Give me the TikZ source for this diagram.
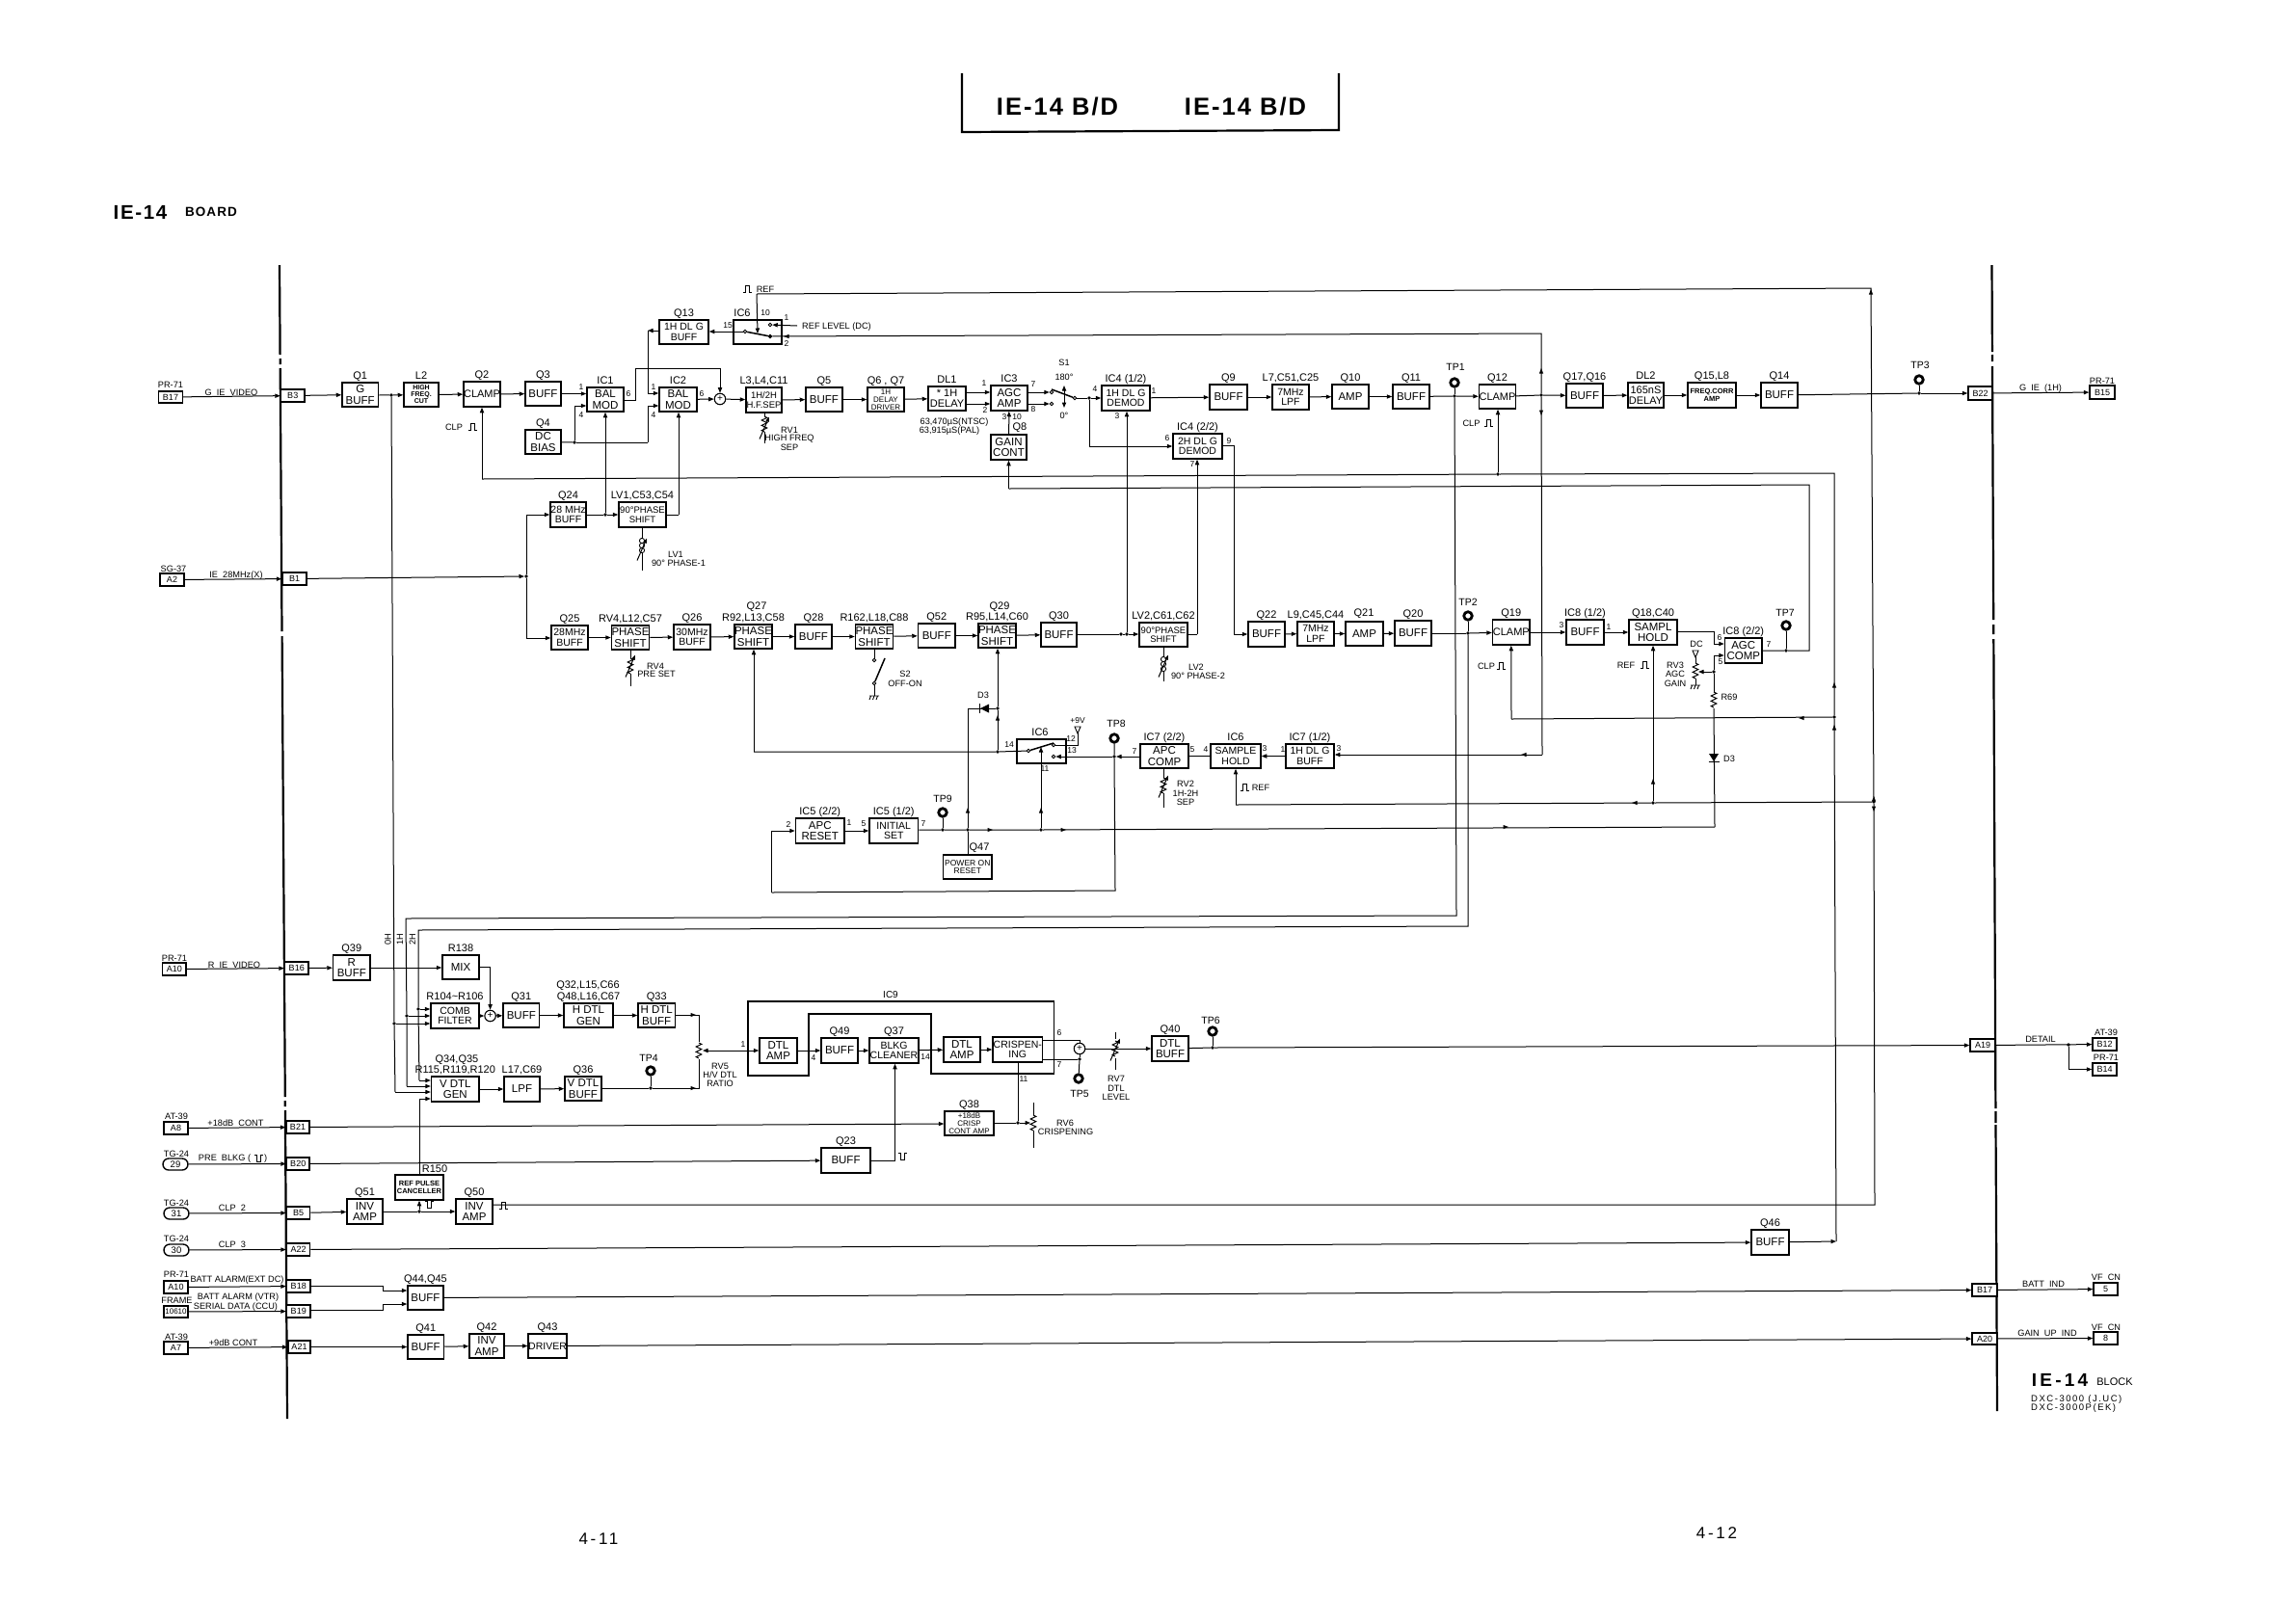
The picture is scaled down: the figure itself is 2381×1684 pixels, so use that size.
\documentclass[tikz,border=0pt]{standalone}
\usepackage{fontspec}
\setmainfont{Liberation Sans}
\usetikzlibrary{arrows.meta,calc}
\newcounter{txtc}
\newcommand{\fz}[1]{\fontsize{#1}{#1}\selectfont}
\tikzset{x=1pt,y=-1pt,
 wire/.style={line width=1pt,line join=miter},
 wa/.style={wire,-{Triangle[length=5.5pt,width=4.2pt]}},
 wb/.style={wire,{Triangle[length=5.5pt,width=4.2pt]}-{Triangle[length=5.5pt,width=4.2pt]}},
 border/.style={line width=2.2pt},
 box/.style={draw,line width=1.5pt,fill=white,inner sep=0pt,align=center,font=\fz{11.5}},
 conn/.style={draw,line width=1.4pt,fill=white,inner sep=0pt,align=center,font=\fz{9}},
 oval/.style={conn,rounded corners=6pt,font=\fz{9.5}},
 ttl/.style={inner sep=0pt,anchor=base,font=\fz{11}},
 lbl/.style={inner sep=0pt,align=center,font=\fz{9.2}},
 pin/.style={inner sep=0pt,font=\fz{8.5}},
 tplab/.style={inner sep=0pt,font=\fz{10.5}},
 head/.style={inner sep=0pt,font=\bfseries\fz{#1}\addfontfeature{LetterSpace=8}},
 spc/.style={inner sep=0pt,font=\fz{#1}\addfontfeature{LetterSpace=16}},
 jdot/.style={circle,fill=black,inner sep=0pt,minimum size=3.6pt},
 tp/.style={circle,draw,line width=2.8pt,fill=white,inner sep=0pt,minimum size=8.5pt},
 cont/.style={circle,draw,line width=0.9pt,fill=white,inner sep=0pt,minimum size=3.6pt},
 sumj/.style={circle,draw,line width=1.1pt,fill=white,inner sep=0pt,minimum size=11.5pt,font=\fz{10}},
 blade/.style={line width=1.5pt}}
\newcommand{\dbox}[7][box]{%
 \pgfmathsetmacro\bxx{(#3+#5)/2}\pgfmathsetmacro\bxy{(#4+#6)/2}%
 \pgfmathsetmacro\bxw{#5-#3}\pgfmathsetmacro\bxh{#6-#4}%
 \node[#1,minimum width=\bxw pt,minimum height=\bxh pt] (#2) at (\bxx,\bxy) {#7};}
\newcommand{\dttl}[2]{\node[ttl] (#1-t) at ([yshift=3pt]#1.north) {#2};}
\newcommand{\dlab}[4][lbl]{\stepcounter{txtc}\node[#1] (t\arabic{txtc}) at (#2,#3) {#4};}
\newcommand{\jn}[3]{\node[jdot] (#1) at (#2,#3) {};}
\newcommand{\tipR}[2]{\fill (#1,#2) ++(-5.5,-2.1) -- ++(5.5,2.1) -- ++(-5.5,2.1) -- cycle;}
\newcommand{\tipL}[2]{\fill (#1,#2) ++(5.5,-2.1) -- ++(-5.5,2.1) -- ++(5.5,2.1) -- cycle;}
\newcommand{\tipU}[2]{\fill (#1,#2) ++(-2.1,5.5) -- ++(2.1,-5.5) -- ++(2.1,5.5) -- cycle;}
\newcommand{\tipD}[2]{\fill (#1,#2) ++(-2.1,-5.5) -- ++(2.1,5.5) -- ++(2.1,-5.5) -- cycle;}
\newcommand{\pls}[2]{\draw[line width=0.9pt] (#1,#2) ++(-4.5,3.5) -- ++(2.5,0) -- ++(0,-7) -- ++(4,0) -- ++(0,7) -- ++(2.5,0);}
\newcommand{\npls}[2]{\draw[line width=0.9pt] (#1,#2) ++(-4.5,-3.5) -- ++(2.5,0) -- ++(0,7) -- ++(4,0) -- ++(0,-7) -- ++(2.5,0);}
\newcommand{\zz}[2]{\draw[wire] (#1,#2) ++(0,-8) -- ++(2.8,1.4) -- ++(-5.6,2.6) -- ++(5.6,2.6) -- ++(-5.6,2.8) -- ++(5.6,2.6) -- ++(-5.6,2.6) -- ++(2.8,1.4);}
\newcommand{\coilz}[2]{\foreach \dy in {-5,0,5}{\draw[line width=0.9pt] (#1,#2) ++(0,\dy) circle[radius=2.6pt];}}
\newcommand{\slant}[2]{\draw[wire,-{Triangle[length=5pt,width=3.5pt]}] (#1,#2) ++(-5,11.5) -- ++(10,-23);}
\newcommand{\gnd}[2]{\draw[line width=0.9pt] (#1,#2) ++(-5,0) -- ++(10,0) (#1,#2) ++(-3.5,0) -- ++(-1.5,4) (#1,#2) ++(0,0) -- ++(-1.5,4) (#1,#2) ++(3.5,0) -- ++(-1.5,4);}
\newcommand{\tria}[2]{\draw[line width=0.9pt,fill=white] (#1,#2) ++(-3,-3) -- ++(6,0) -- ++(-3,7) -- cycle;}
\begin{document}
\begin{tikzpicture}
\useasboundingbox (0,0) rectangle (2381,1684);
% page title
\draw[line width=2.2pt] (998,76) -- (998,137) -- (1389,135) -- (1389,76);
\dlab[head=25.5]{1097}{111}{IE-14 B/D}
\dlab[head=25.5]{1292}{111}{IE-14 B/D}
\dlab[head=20.5]{145.5}{220}{IE-14}
\dlab[head=13.5]{219}{220}{BOARD}
\dlab[spc=17]{621}{1597}{4-11}
\dlab[spc=17]{1781}{1591}{4-12}
% frame lines
\draw[border] (290,275) -- (290.6,368) (290.65,372) -- (290.7,378) (290.7,382) -- (292.5,655) (292.6,660) -- (295.8,1138) (295.8,1142) -- (295.8,1148) (295.9,1152) -- (298,1472);
\draw[border] (2066.5,275) -- (2066.9,365) (2066.9,368) -- (2067,375) (2067,380) -- (2068.2,643) (2068.2,648) -- (2068.3,658) (2068.3,663) -- (2070.4,1150) (2070.4,1153) -- (2070.5,1165) (2070.5,1167) -- (2072,1464);
% IC9 outline
\draw[line width=1.1pt] (776,1039) -- (1093.5,1039) -- (1093.5,1114) -- (966,1114) -- (966,1052) -- (839,1052) -- (839,1116) -- (776,1116) -- cycle;
% left connectors
\dbox[conn]{b17}{164.5}{406}{189.5}{418}{B17}
\dbox[conn]{b3}{291.5}{404}{316}{417}{B3}
\dbox[conn]{a2}{166}{595}{191}{608}{A2}
\dbox[conn]{b1}{293}{594}{318}{607}{B1}
\dbox[conn]{a10}{168.6}{999}{193}{1012}{A10}
\dbox[conn]{b16}{295.5}{998}{320}{1011}{B16}
\dbox[conn]{a8}{170}{1164}{195}{1177}{A8}
\dbox[conn]{b21}{297}{1163}{321}{1176}{B21}
\dbox[oval]{c29}{169}{1202}{195}{1214}{29}
\dbox[conn]{b20}{297.5}{1201}{321}{1214}{B20}
\dbox[oval]{c31}{170}{1253}{196}{1265}{31}
\dbox[conn]{b5}{297.5}{1252}{321.6}{1265}{B5}
\dbox[oval]{c30}{170}{1291}{196}{1303}{30}
\dbox[conn]{a22}{297.5}{1290}{321.6}{1303}{A22}
\dbox[conn]{a10b}{170}{1329}{195}{1342}{A10}
\dbox[conn,line width=2pt,font=\fz{8}]{frm}{170}{1355}{195}{1367}{10610}
\dbox[conn]{b18}{297.5}{1328}{322}{1341}{B18}
\dbox[conn]{b19}{297.5}{1354}{322}{1367}{B19}
\dbox[conn]{a7}{170}{1392}{195}{1405}{A7}
\dbox[conn]{a21}{299}{1391}{322}{1404}{A21}
% right connectors
\dbox[conn]{b22}{2042}{401}{2067}{415}{B22}
\dbox[conn]{b15}{2168}{400}{2194}{414}{B15}
\dbox[conn]{a19}{2044}{1078}{2070}{1091}{A19}
\dbox[conn]{b12}{2171}{1077}{2196}{1090}{B12}
\dbox[conn]{b14}{2171}{1103}{2196}{1116}{B14}
\dbox[conn]{b17r}{2046}{1332}{2072}{1345}{B17}
\dbox[conn]{c5}{2172}{1331}{2197}{1344}{5}
\dbox[conn]{a20}{2046}{1383}{2072}{1395}{A20}
\dbox[conn]{c8}{2172}{1382}{2197}{1395}{8}
% row 1
\dbox{q1}{355}{397}{392.5}{422}{G\\BUFF}\dttl{q1}{Q1}
\dbox[box,font=\bfseries\fz{7}]{l2}{419}{397}{455}{422}{HIGH\\FREQ.\\CUT}\dttl{l2}{L2}
\dbox[box,font=\fz{11}]{q2}{481}{396}{519}{422}{CLAMP}\dttl{q2}{Q2}
\dbox{q3}{545}{396}{582}{421}{BUFF}\dttl{q3}{Q3}
\dbox{q4}{545}{446}{582}{471}{DC\\BIAS}\dttl{q4}{Q4}
\dbox{ic1}{609}{402}{647}{427}{BAL\\MOD}\dttl{ic1}{IC1}
\dbox{ic2}{684}{402}{723}{427}{BAL\\MOD}\dttl{ic2}{IC2}
\node[sumj] (sum1) at (747,414) {+};
\dbox[box,font=\fz{9.5}]{l3}{774}{402}{811}{428}{1H/2H\\H.F.SEP}\dttl{l3}{L3,L4,C11}
\dbox{q5}{836}{402}{874}{427}{BUFF}\dttl{q5}{Q5}
\dbox[box,font=\fz{8}]{q6}{900}{402}{938}{427}{1H\\DELAY\\DRIVER}\dttl{q6}{Q6 , Q7}
\dbox[box,font=\fz{11}]{dl1}{963}{401}{1002}{426}{* 1H\\DELAY}\dttl{dl1}{DL1}
\dbox{ic3}{1028}{400}{1066}{426}{AGC\\AMP}\dttl{ic3}{IC3}
\dbox{q8}{1028}{451}{1065}{477}{GAIN\\CONT}
\dlab[ttl,anchor=center]{1058}{444}{Q8}
\dbox[box,font=\fz{10.5}]{ic41}{1143}{400}{1193}{426}{1H DL G\\DEMOD}\dttl{ic41}{IC4 (1/2)}
\dbox[box,font=\fz{10.5}]{ic42}{1217}{450}{1268}{476}{2H DL G\\DEMOD}\dttl{ic42}{IC4 (2/2)}
\dbox{q9}{1255}{399}{1294}{425}{BUFF}\dttl{q9}{Q9}
\dbox[box,font=\fz{10.5}]{l7}{1320}{399}{1358}{425}{7MHz\\LPF}\dttl{l7}{L7,C51,C25}
\dbox{q10}{1382}{399}{1420}{424}{AMP}\dttl{q10}{Q10}
\dbox{q11}{1445}{399}{1483}{424}{BUFF}\dttl{q11}{Q11}
\dbox[box,font=\fz{11}]{q12}{1535}{399}{1572}{424}{CLAMP}\dttl{q12}{Q12}
\dbox{q17}{1625}{398}{1663}{423}{BUFF}\dttl{q17}{Q17,Q16}
\dbox[box,font=\fz{11}]{dl2}{1689}{397}{1726}{423}{165nS\\DELAY}\dttl{dl2}{DL2}
\dbox[box,font=\bfseries\fz{7.5}]{q15}{1751}{397}{1801}{423}{FREQ.CORR\\AMP}\dttl{q15}{Q15,L8}
\dbox{q14}{1827}{397}{1865}{423}{BUFF}\dttl{q14}{Q14}
\dbox[box,font=\fz{10.5}]{q13}{684}{332}{735}{357}{1H DL G\\BUFF}\dttl{q13}{Q13}
\dbox{ic6a}{761}{332}{811}{357}{}
\dlab[ttl,anchor=center]{770}{325}{IC6}
% row 2
\dbox[box,font=\fz{10.5}]{q24}{571}{521}{608}{547}{28 MHz\\BUFF}\dttl{q24}{Q24}
\dbox[box,font=\fz{9.5}]{lv1}{642}{521}{691}{547}{90°PHASE\\SHIFT}\dttl{lv1}{LV1,C53,C54}
% row 3
\dbox[box,font=\fz{10.5}]{q25}{572}{649}{610}{674}{28MHz\\BUFF}\dttl{q25}{Q25}
\dbox{rv4b}{635}{649}{673}{674}{PHASE\\SHIFT}\dttl{rv4b}{RV4,L12,C57}
\dbox[box,font=\fz{10.5}]{q26}{699}{648}{737}{674}{30MHz\\BUFF}\dttl{q26}{Q26}
\dbox{q27}{762}{648}{801}{673}{PHASE\\SHIFT}\dttl{q27}{R92,L13,C58}
\dlab[ttl,anchor=center]{785}{630}{Q27}
\dbox{q28}{825}{648}{863}{673}{BUFF}\dttl{q28}{Q28}
\dbox{r162}{888}{648}{926}{673}{PHASE\\SHIFT}\dttl{r162}{R162,L18,C88}
\dbox{q52}{952.5}{647}{991}{672}{BUFF}\dttl{q52}{Q52}
\dbox{q29}{1015}{647}{1054}{672}{PHASE\\SHIFT}\dttl{q29}{R95,L14,C60}
\dlab[ttl,anchor=center]{1037}{630}{Q29}
\dbox{q30}{1080}{646}{1117}{671}{BUFF}\dttl{q30}{Q30}
\dbox[box,font=\fz{9.5}]{lv2}{1182}{646}{1232}{671}{90°PHASE\\SHIFT}\dttl{lv2}{LV2,C61,C62}
\dbox{q22}{1295}{645}{1333}{671}{BUFF}\dttl{q22}{Q22}
\dbox[box,font=\fz{10.5}]{l9}{1346}{645}{1384}{670}{7MHz\\LPF}\dttl{l9}{L9,C45,C44}
\dbox{q21}{1396}{645}{1435}{670}{AMP}
\dlab[ttl,anchor=center]{1415}{637}{Q21}
\dbox{q20}{1447}{644}{1485}{670}{BUFF}\dttl{q20}{Q20}
\dbox[box,font=\fz{11}]{q19}{1548.6}{643}{1587}{669}{CLAMP}\dttl{q19}{Q19}
\dbox{ic81}{1625}{643}{1664}{669}{BUFF}\dttl{ic81}{IC8 (1/2)}
\dbox{q18}{1690}{643}{1740}{669}{SAMPL\\HOLD}\dttl{q18}{Q18,C40}
\dbox{ic82}{1789.5}{662}{1828}{688}{AGC\\COMP}\dttl{ic82}{IC8 (2/2)}
% row 4
\dbox{ic6b}{1055}{767}{1106}{792}{}
\dlab[ttl,anchor=center]{1079}{760}{IC6}
\dbox{ic72}{1183}{772}{1233}{797}{APC\\COMP}\dttl{ic72}{IC7 (2/2)}
\dbox[box,font=\fz{10.5}]{sh}{1256}{772}{1308}{797}{SAMPLE\\HOLD}\dttl{sh}{IC6}
\dbox[box,font=\fz{10.5}]{ic71}{1334}{772}{1384}{797}{1H DL G\\BUFF}\dttl{ic71}{IC7 (1/2)}
\dbox{ic52}{825.5}{849}{876}{875}{APC\\RESET}\dttl{ic52}{IC5 (2/2)}
\dbox[box,font=\fz{10.5}]{ic51}{902}{849}{952.5}{875}{INITIAL\\SET}\dttl{ic51}{IC5 (1/2)}
\dbox[box,font=\fz{8.5}]{q47}{978.6}{887}{1029}{912}{POWER ON\\RESET}
\dlab[ttl,anchor=center]{1016}{880}{Q47}
% detail section
\dbox{q39}{345.6}{991}{384}{1017}{R\\BUFF}\dttl{q39}{Q39}
\dbox{r138}{459}{991}{497}{1016}{MIX}\dttl{r138}{R138}
\dbox[box,font=\fz{10.5}]{comb}{447}{1041}{497}{1067}{COMB\\FILTER}\dttl{comb}{R104\textasciitilde R106}
\node[sumj] (sum2) at (508.6,1054) {+};
\dbox{q31}{522}{1041}{559.6}{1066}{BUFF}\dttl{q31}{Q31}
\dbox{q32}{585}{1041}{636}{1066}{H DTL\\GEN}\dttl{q32}{Q48,L16,C67}
\dlab[ttl,anchor=center]{610}{1023}{Q32,L15,C66}
\dbox{q33}{662}{1041}{700.5}{1066}{H DTL\\BUFF}\dttl{q33}{Q33}
\dbox{vdtl}{447.6}{1117}{497}{1143}{V DTL\\GEN}\dttl{vdtl}{R115,R119,R120}
\dlab[ttl,anchor=center]{474}{1100}{Q34,Q35}
\dbox{lpf}{523}{1117}{560}{1143}{LPF}\dttl{lpf}{L17,C69}
\dbox{q36}{586}{1117}{624}{1142}{V DTL\\BUFF}\dttl{q36}{Q36}
\dbox{am1}{788}{1077}{827}{1103}{DTL\\AMP}
\dbox{q49}{852}{1077}{890}{1103}{BUFF}\dttl{q49}{Q49}
\dbox[box,font=\fz{10.5}]{q37}{902}{1077}{953}{1103}{BLKG\\CLEANER}\dttl{q37}{Q37}
\dbox{am2}{979}{1076}{1017}{1102}{DTL\\AMP}
\dbox[box,font=\fz{10.5}]{crisp}{1030}{1076}{1081.5}{1102}{CRISPEN-\\ING}
\node[sumj] (sum3) at (1120,1088) {+};
\dbox{q40}{1195}{1075}{1233}{1101}{DTL\\BUFF}\dttl{q40}{Q40}
\dbox[box,font=\fz{8}]{q38}{980}{1153}{1031}{1178}{+18dB\\CRISP\\CONT AMP}\dttl{q38}{Q38}
\dbox{q23}{852}{1191}{903}{1217}{BUFF}\dttl{q23}{Q23}
\dbox[box,font=\bfseries\fz{7.5},line width=1.5pt]{r150}{410}{1219}{460}{1245}{REF PULSE\\CANCELLER}
\dlab[ttl,anchor=center]{451}{1213}{R150}
\dbox{q51}{360}{1244}{397}{1270}{INV\\AMP}\dttl{q51}{Q51}
\dbox{q50}{473}{1244}{511}{1270}{INV\\AMP}\dttl{q50}{Q50}
\dbox{q46}{1817}{1276}{1856}{1302}{BUFF}\dttl{q46}{Q46}
\dbox{q44}{423}{1334}{460}{1359}{BUFF}\dttl{q44}{Q44,Q45}
\dbox{q41}{423}{1385}{460.5}{1410}{BUFF}\dttl{q41}{Q41}
\dbox{q42}{487}{1384}{523}{1409}{INV\\AMP}\dttl{q42}{Q42}
\dbox[box,font=\fz{10.5}]{q43}{549}{1384}{587}{1409}{DRIVER}\dttl{q43}{Q43}
% test points
\node[tp] (tp1) at (1509,397) {};
\node[tp] (tp2) at (1523,639) {};
\node[tp] (tp3) at (1991,394) {};
\node[tp] (tp4) at (675,1111) {};
\node[tp] (tp5) at (1119,1119) {};
\node[tp] (tp6) at (1258,1070) {};
\node[tp] (tp7) at (1853,649) {};
\node[tp] (tp8) at (1156,766) {};
\node[tp] (tp9) at (978,843) {};
\dlab[tplab]{1510}{381}{TP1}\dlab[tplab]{1523}{625}{TP2}\dlab[tplab]{1992}{379}{TP3}
\dlab[tplab]{673}{1098}{TP4}\dlab[tplab]{1120}{1135}{TP5}\dlab[tplab]{1256}{1059}{TP6}
\dlab[tplab]{1852}{636}{TP7}\dlab[tplab]{1158}{751}{TP8}\dlab[tplab]{978}{829}{TP9}
% junctions
\jn{n0}{406}{410}
\jn{n4}{596}{459}
\jn{n1c}{1130}{413}
\jn{nt1}{1509}{411}
\jn{n12}{1599}{410}
\jn{ntp3}{1991}{408}
\jn{nb1}{546}{598}
\jn{n24}{628}{534}
\jn{n30a}{1163}{658}
\jn{n30b}{1169}{658}
\jn{nt2}{1523}{657}
\jn{n7}{1853}{675}
\jn{n5}{1778}{697}
\jn{n19}{1903}{744}
\jn{nr}{1944}{832}
\jn{nr2}{1715}{833}
\jn{n12b}{1554}{492}
\jn{n14}{1035}{780}
\jn{nd3}{1035}{735}
\jn{n8}{1156}{785}
\jn{ntp9}{978}{861}
\jn{nq47}{1004}{861}
\jn{n11}{1080}{861}
\jn{n2h}{434}{1047}
\jn{n1h}{422}{1054}
\jn{n0h}{409}{1062}
\jn{ntp4}{675}{1129}
\jn{n38}{1056}{1165}
\jn{n7s}{1120}{1099}
\jn{ntp6}{1258}{1087}
\jn{n51}{435}{1257}
\jn{nd}{2146}{1084}
% chains
\foreach \a/\b in {b17/b3,b3/q1,l2/q2,q2/q3,ic2/sum1,sum1/l3,l3/q5,q5/q6,q6/dl1,ic41/q9,q9/l7,l7/q10,q10/q11,q17/dl2,dl2/q15,q15/q14,b22/b15,a2/b1,q25/rv4b,rv4b/q26,q26/q27,q27/q28,q28/r162,r162/q52,q52/q29,q29/q30,q22/l9,l9/q21,q21/q20,q19/ic81,ic81/q18,ic71/sh,ic52/ic51,a10/b16,b16/q39,comb/sum2,sum2/q31,q31/q32,q32/q33,lpf/q36,vdtl/lpf,am1/q49,q49/q37,q37/am2,am2/crisp,sum3/q40,c29/b20,a8/b21,c31/b5,c30/a22,a10b/b18,frm/b19,a7/a21,q41/q42,q42/q43,a21/q41,b5/q51,b20/q23,a22/q46,b1/nb1,q8/ic3,n51/q50}{
 \draw[wa] (\a) -- (\b);
}
% row 1 wires
\draw[wire] (q1) -- (n0);
\draw[wa] (n0) -- (l2);
\draw[wa] (q3) -- (ic1.west |- q3);
\draw[wire] (q4) -- (n4);
\draw[wa] (n4) |- (ic1.west |- 0,421);
\draw[wire] (n4) -- (672,459) coordinate (c4a);
\draw[wa] (c4a) |- (ic2.west |- 0,421);
\coordinate (c1a) at (659,415);
\coordinate (c1b) at (659,382);
\coordinate (c1c) at (747,382);
\draw[wa] (ic1.east |- c1a) -- (c1a) -- (c1b) -- (c1c) -- (sum1);
\coordinate (c13) at (672,343);
\draw[wa] (q13.west |- c13) -- (c13);
\draw[wa] (c13) |- (ic2.west |- 0,408);
\draw[wa] (dl1.east |- 0,407) -- (ic3.west |- 0,407);
\draw[wa] (dl1.east |- 0,419) -- (ic3.west |- 0,419);
\node[cont] (s1a) at (1091,407) {};
\node[cont] (s1b) at (1091,419) {};
\node[cont] (s1c) at (1115,413) {};
\draw[wa] (ic3.east |- s1a) -- (s1a);
\draw[wa] (ic3.east |- s1b) -- (s1b);
\draw[blade] (s1c) -- (1091,404);
\draw[wb] (1104,400) -- (1104,423);
\draw[wire] (s1c) -- (n1c);
\draw[wa] (n1c) -- (ic41.west |- n1c);
\draw[wa] (n1c) |- (ic42.west |- 0,463);
\draw[wire] (q11) -- (nt1);
\draw[wa] (nt1) -- (q12);
\draw[wire] (tp1) -- (nt1);
\draw[wire] (q12) -- (n12);
\draw[wa] (n12) -- (q17);
\draw[wire] (q14) -- (ntp3);
\draw[wa] (ntp3) -- (b22);
\draw[wire] (tp3) -- (ntp3);
% IC6 top switch
\node[cont] (s6a) at (773,344) {};
\node[cont] (s6b) at (799,337) {};
\node[cont,fill=black] (s6c) at (799,349) {};
\draw[blade] (s6a) -- (s6c);
\coordinate (crl) at (827,338);
\draw[wa] (crl) -- (s6b);
\draw[wa] (s6a) -- (q13.east |- s6a);
\coordinate (cr1) at (785,305);
\coordinate (cr2) at (1941,299);
\coordinate (cr3) at (1945,1250);
\coordinate (cr4) at (786,346);
\draw[wa] (cr1) -- (cr4);
\draw[wire] (cr1) -- (cr2) -- (nr) -- (cr3) -- (q50.east |- cr3);
\tipU{1941}{300}\tipD{1944}{842}\tipU{1944}{826}
\draw[wire] (nr) -- (nr2) -- (1282,835) coordinate (crr);
\tipL{1693}{833}
\draw[wa] (nr2) -- (q18.south -| nr2);
\tipU{1715}{808}
\draw[wa] (crr) -- (sh.south);
% 12 feedback
\coordinate (c12t) at (1599,346);
\coordinate (c12b) at (1600,783);
\draw[wire] (n12) -- (c12t) -- (s6c);
\draw[wire] (n12) -- (c12b);
\draw[wa] (c12b) -- (ic71.east |- c12b);
\tipL{813}{349}\tipU{1599}{382}\tipD{1599}{431}\tipL{1578}{783}
% clamp pulse line
\coordinate (c46) at (1905,1288);
\coordinate (cup) at (1903,491);
\coordinate (cl) at (500,497);
\coordinate (c19) at (1568,746);
\draw[wa] (q46) -- (c46);
\draw[wire] (c46) -- (n19) -- (cup) -- (n12b) -- (cl);
\draw[wa] (cl) -- (q2.south);
\draw[wa] (n12b) -- (q12.south -| n12b);
\draw[wire] (n19) -- (c19);
\draw[wa] (c19) -- (q19.south);
\tipU{1903}{708}\tipU{1903}{752}\tipL{1866}{745}
% AGC line
\coordinate (c7) at (1877,675);
\coordinate (c8x) at (1877,503);
\coordinate (c9) at (1046.5,507);
\draw[wire] (ic82.east |- n7) -- (n7) -- (c7) -- (c8x) -- (c9);
\draw[wa] (c9) -- (q8.south);
\draw[wire] (tp7) -- (n7);
% row 2/3 inputs
\draw[wa] (nb1) |- (q24.west |- 0,534);
\draw[wa] (nb1) |- (q25.west |- 0,662);
\draw[wire] (q24.east |- n24) -- (n24);
\draw[wa] (n24) -- (lv1.west |- n24);
\draw[wa] (n24) -- (ic1.south -| n24);
\coordinate (clv) at (704,534);
\draw[wire] (lv1.east |- clv) -- (clv);
\draw[wa] (clv) -- (ic2.south -| clv);
% IC4 links
\coordinate (c42a) at (1280,462);
\coordinate (c42b) at (1280,658);
\draw[wa] (ic42.east |- c42a) -- (c42a) -- (c42b) -- (q22.west |- c42b);
\coordinate (cl2) at (1242,658);
\draw[wire] (lv2.east |- cl2) -- (cl2);
\draw[wa] (cl2) -- (ic42.south -| cl2);
\draw[wire] (q30.east |- n30a) -- (n30a) -- (n30b);
\draw[wa] (n30b) -- (lv2.west |- n30b);
\draw[wa] (n30b) -- (ic41.south -| n30b);
% Q20 -> Q19
\draw[wire] (q20) -- (nt2);
\draw[wa] (nt2) -- (q19);
\draw[wire] (tp2) -- (nt2);
% 1H / 2H / 0H buses
\coordinate (c1h1) at (1511,950);
\coordinate (c1h2) at (421,953);
\coordinate (c1h3) at (422,1127);
\draw[wire] (nt1) -- (c1h1) -- (c1h2) -- (n1h) -- (c1h3);
\draw[wa] (n1h) -- (comb.west |- n1h);
\draw[wa] (c1h3) -- (vdtl.west |- c1h3);
\coordinate (c2h1) at (1523,961);
\coordinate (c2h2) at (434,965);
\coordinate (c2h3) at (435,1121);
\draw[wire] (nt2) -- (c2h1) -- (c2h2) -- (n2h) -- (c2h3);
\draw[wa] (n2h) -- (comb.west |- n2h);
\draw[wa] (c2h3) -- (vdtl.west |- c2h3);
\coordinate (c0h) at (410,1133);
\draw[wire] (n0) -- (n0h) -- (c0h);
\draw[wa] (n0h) -- (comb.west |- n0h);
\draw[wa] (c0h) -- (vdtl.west |- c0h);
\dlab[lbl,rotate=90]{402.5}{975}{0H}
\dlab[lbl,rotate=90]{415}{975}{1H}
\dlab[lbl,rotate=90]{428}{975}{2H}
% Q27/Q29 control
\coordinate (c27) at (782,780);
\node[cont] (s7a) at (1067,779) {};
\node[cont] (s7b) at (1093,773) {};
\node[cont] (s7c) at (1093,785) {};
\draw[blade] (s7a) -- (1093,771);
\draw[wire] (s7a) -- (n14) -- (c27);
\draw[wa] (c27) -- (q27.south -| c27);
\draw[wire] (n14) -- (nd3);
\draw[wa] (nd3) -- (q29.south -| nd3);
\tipU{1035}{742}
\coordinate (cd3) at (1004,735);
\draw[wire] (nd3) -- (cd3) -- (nq47) -- (q47.north -| nq47);
\tipU{1004}{838}
\fill (1026,730.5) -- (1026,739.5) -- (1017,735) -- cycle;
\draw[line width=1.5pt] (1016.5,730) -- (1016.5,740);
\coordinate (c12a) at (1118,773);
\coordinate (c12b2) at (1118,760);
\draw[wire] (s7b) -- (c12a) -- (c12b2);
\tria{1118}{757}
\dlab[pin]{1118}{748}{+9V}
\draw[wa] (ic72.west |- n8) -- (n8);
\draw[wa] (n8) -- (s7c);
\coordinate (c8a) at (1157,924);
\coordinate (c8b) at (800.5,926);
\draw[wire] (tp8) -- (n8) -- (c8a) -- (c8b);
\draw[wa] (c8b) |- (ic52.west |- 0,862);
\coordinate (cend) at (1779,858);
\draw[wire] (ic51.east |- ntp9) -- (ntp9) -- (nq47) -- (n11) -- (cend);
\draw[wire] (tp9) -- (ntp9);
\tipR{1030}{861}\tipR{1106}{861}\tipR{1565}{858}
\coordinate (c11) at (1080,775);
\draw[wa] (n11) -- (c11);
\tipU{1080}{838}
\draw[wire] (ic72) -- (sh);
% D3 / R69 / RV3
\coordinate (cr69b) at (1778,735);
\coordinate (cr69t) at (1778,718);
\coordinate (c5a) at (1778,680);
\coordinate (cq18a) at (1778,655);
\coordinate (cq18b) at (1778,668);
\draw[wire] (cend) -- (cr69b);
\zz{1778}{726}
\draw[wire] (cr69t) -- (n5) -- (c5a);
\draw[wa] (c5a) -- (ic82.west |- c5a);
\draw[wa] (q18.east |- cq18a) -- (cq18a) -- (cq18b) -- (ic82.west |- cq18b);
\fill (1773,782) -- (1783,782) -- (1778,790) -- cycle;
\draw[line width=1.5pt] (1772.5,790.5) -- (1783.5,790.5);
\coordinate (cw3) at (1762,697);
\draw[wa] (n5) -- (cw3);
\zz{1759}{696}
\tria{1759}{678}
\draw[wire] (1759,682) -- (1759,688) (1759,704) -- (1759,711);
\gnd{1759}{711}
% symbols row 1-3
\draw[wire] (l3.south -| 793,0) -- (793,432) (793,448) -- (793,460);
\zz{793}{440}\slant{793}{444}
\draw[wire] (lv1.south -| 666,0) -- (666,558) (666,574) -- (666,592);
\coilz{666}{566}\slant{666}{570}
\draw[wire] (rv4b.south -| 654,0) -- (654,683) (654,699) -- (654,712);
\zz{654}{691}\slant{654}{691}
\draw[wire] (lv2.south -| 1207,0) -- (1207,681) (1207,697) -- (1207,707);
\coilz{1207}{689}\slant{1207}{691}
\draw[wire] (ic72.south -| 1207,0) -- (1207,807) (1207,823) -- (1207,838);
\zz{1207}{815}\slant{1207}{816}
% S2
\node[cont] (s2a) at (907,685) {};
\node[cont] (s2b) at (907,709) {};
\draw[wire] (r162.south -| s2a) -- (s2a);
\draw[blade] (s2b) -- (918,683);
\draw[wire] (s2b) -- (907,722);
\gnd{907}{722}
% detail wires
\coordinate (cm1) at (508.6,1003);
\draw[wa] (q39.east |- 0,1004) -- (r138.west |- 0,1004);
\draw[wa] (r138.east |- cm1) -- (cm1) -- (sum2);
\coordinate (c33) at (725,1053);
\coordinate (c33b) at (725,1081);
\draw[wire] (q33.east |- c33) -- (c33) -- (c33b);
\tipR{722}{1053}
\coordinate (c36) at (725,1129);
\coordinate (c36b) at (725,1099);
\draw[wire] (q36.east |- ntp4) -- (ntp4) -- (c36) -- (c36b);
\draw[wire] (tp4) -- (ntp4);
\tipR{722}{1129}
\zz{725}{1090}
\coordinate (cw5) at (729,1090);
\draw[wb] (cw5) -- (am1.west |- cw5);
% IC9 out
\coordinate (cc6) at (1120,1079);
\draw[wire] (crisp.east |- cc6) -- (cc6) -- (sum3);
\draw[wire] (crisp.east |- n7s) -- (n7s) -- (sum3);
\draw[wire] (tp5) -- (n7s);
\draw[wire] (1157,1071) -- (1157,1078) (1157,1098) -- (1157,1110);
\zz{1157}{1088}\slant{1157}{1089}
\draw[wire] (q40) -- (ntp6);
\draw[wire] (tp6) -- (ntp6);
\draw[wa] (ntp6) -- (a19);
\draw[wa] (a19) -- (b12);
\draw[wa] (nd) |- (b14.west);
% Q38, RV6
\draw[wa] (b21) -- (q38.west |- 0,1166);
\draw[wire] (q38.east |- n38) -- (n38);
\draw[wa] (n38) -- (1069,1165);
\draw[wire] (crisp.south -| n38) -- (n38);
\draw[wire] (1072,1144) -- (1072,1157) (1072,1173) -- (1072,1191);
\zz{1072}{1165}
\coordinate (c23) at (928.5,1204);
\draw[wire] (q23) -- (c23);
\draw[wa] (c23) -- (q37.south -| c23);
% Q51, R150, Q50
\draw[wire] (q51) -- (n51);
\draw[wa] (n51) -- (r150.south -| n51);
\coordinate (c150) at (435,1140);
\draw[wire] (r150.north -| c150) -- (c150);
\draw[wa] (c150) -- (vdtl.west |- c150);
% B18/B19 to Q44
\draw[wa] (b18.east |- 0,1334) -- (397,1334) -- (397,1339) -- (q44.west |- 0,1339);
\draw[wa] (b19.east |- 0,1359) -- (397,1359) -- (397,1353) -- (q44.west |- 0,1353);
\draw[wa] (q44) -- (b17r);
\draw[wa] (b17r) -- (c5);
\draw[wa] (q43) -- (a20);
\draw[wa] (a20) -- (c8);
% pulses
\pls{775}{300}
\pls{490}{443}\pls{1544}{439}\pls{1557}{691}\pls{1706}{690}\pls{1291}{817}\pls{522}{1251}
\npls{445}{1250}\npls{936}{1200}\npls{268.5}{1202}
% labels left
\dlab{177}{399}{PR-71}\dlab{240}{407}{G\ \ IE\ \ VIDEO}
\dlab{180}{590}{SG-37}\dlab{245}{597}{IE\ \ 28MHz(X)}
\dlab{181}{994}{PR-71}\dlab{243}{1001}{R\ \ IE\ \ VIDEO}
\dlab{183}{1158}{AT-39}\dlab{244.5}{1165}{+18dB\ \ CONT}
\dlab{183}{1197}{TG-24}\dlab{241.6}{1202}{PRE\ \ BLKG\ (\hspace{14pt})}
\dlab{183}{1248}{TG-24}\dlab{241}{1253}{CLP\ \ 2}
\dlab{183}{1285}{TG-24}\dlab{241}{1291}{CLP\ \ 3}
\dlab{183}{1322}{PR-71}\dlab{246}{1328}{BATT ALARM(EXT DC)}
\dlab{183.5}{1349}{FRAME}\dlab{247}{1346}{BATT ALARM (VTR)}\dlab{244.5}{1356}{SERIAL DATA (CCU)}
\dlab{183}{1387}{AT-39}\dlab{242}{1393}{+9dB CONT}
% labels right
\dlab{2117}{403}{G\ \ IE\ \ (1H)}\dlab{2181}{395}{PR-71}
\dlab{2117}{1078}{DETAIL}\dlab{2185}{1071}{AT-39}\dlab{2185}{1097}{PR-71}
\dlab{2120}{1332}{BATT\ \ IND}\dlab{2185}{1325}{VF\ \ CN}
\dlab{2124}{1383}{GAIN\ \ UP\ \ IND}\dlab{2185}{1377}{VF\ \ CN}
\dlab[inner sep=0pt,font=\bfseries\fz{19}\addfontfeature{LetterSpace=17}]{2137}{1432}{IE-14}
\dlab[inner sep=0pt,font=\fz{11}]{2194}{1434}{BLOCK}
\dlab[spc=9.5,anchor=west]{2107}{1452}{DXC-3000 (J.UC)}
\dlab[spc=9.5,anchor=west]{2107}{1461}{DXC-3000P(EK)}
% misc labels
\dlab{794}{300}{REF}
\dlab{868}{339}{REF LEVEL (DC)}
\dlab{471}{443}{CLP}\dlab{1526.5}{439}{CLP}\dlab{1542}{691}{CLP}\dlab{1687}{690}{REF}\dlab{1308}{817}{REF}
\dlab{819}{446}{RV1}\dlab{819}{455}{HIGH FREQ}\dlab{819}{464}{SEP}
\dlab{701}{575}{LV1}\dlab{704}{584}{90° PHASE-1}
\dlab{680}{691}{RV4}\dlab{681}{699}{PRE SET}
\dlab{939}{699}{S2}\dlab{939}{709}{OFF-ON}
\dlab{1241}{692}{LV2}\dlab{1243}{701}{90° PHASE-2}
\dlab{1230}{813}{RV2}\dlab{1230}{823}{1H-2H}\dlab{1230}{832}{SEP}
\dlab{1760}{668}{DC}\dlab{1738}{690}{RV3}\dlab{1738}{699}{AGC}\dlab{1738}{709}{GAIN}
\dlab{1794}{723}{R69}\dlab{1794}{787}{D3}\dlab{1020}{721}{D3}
\dlab{1104}{376}{S1}\dlab{1104}{391}{180°}\dlab{1104}{431}{0°}
\dlab{990}{438}{63,470µS(NTSC)}\dlab{985}{447}{63,915µS(PAL)}
\dlab[inner sep=0pt,font=\fz{10}]{924}{1032}{IC9}
\dlab{747}{1106}{RV5}\dlab{747}{1115}{H/V DTL}\dlab{747}{1124}{RATIO}
\dlab{1158}{1119}{RV7}\dlab{1158}{1129}{DTL}\dlab{1158}{1138}{LEVEL}
\dlab{1105}{1165}{RV6}\dlab{1105.6}{1174}{CRISPENING}
% pins
\dlab[pin]{603}{402}{1}\dlab[pin]{652}{409}{6}\dlab[pin]{603}{431}{4}
\dlab[pin]{678}{402}{1}\dlab[pin]{728}{409}{6}\dlab[pin]{678}{431}{4}
\dlab[pin]{755}{338}{15}\dlab[pin]{794}{325}{10}\dlab[pin]{816}{330}{1}\dlab[pin]{816}{357}{2}
\dlab[pin]{1021}{398}{1}\dlab[pin]{1022}{426}{2}\dlab[pin]{1072}{399}{7}\dlab[pin]{1072}{425}{8}
\dlab[pin]{1042}{433}{3}\dlab[pin]{1055}{433}{10}
\dlab[pin]{1136}{404}{4}\dlab[pin]{1197}{406}{1}\dlab[pin]{1159}{432}{3}
\dlab[pin]{1211}{455}{6}\dlab[pin]{1275}{458}{9}\dlab[pin]{1237}{482}{7}
\dlab[pin]{1620}{649}{3}\dlab[pin]{1669}{651}{1}\dlab[pin]{1784}{662}{6}\dlab[pin]{1785}{687}{5}\dlab[pin]{1835}{669}{7}
\dlab[pin]{1047}{773}{14}\dlab[pin]{1111}{767}{12}\dlab[pin]{1112}{779}{13}\dlab[pin]{1084}{798}{11}
\dlab[pin]{1177}{780}{7}\dlab[pin]{1237}{778}{5}\dlab[pin]{1251}{778}{4}\dlab[pin]{1312}{777}{3}\dlab[pin]{1331}{778}{1}\dlab[pin]{1389}{777}{3}
\dlab[pin]{818}{856}{2}\dlab[pin]{881}{854}{1}\dlab[pin]{896}{855}{5}\dlab[pin]{958}{855}{7}
\dlab[pin]{771}{1084}{1}\dlab[pin]{844}{1098}{4}\dlab[pin]{960}{1097}{14}\dlab[pin]{1099}{1072}{6}\dlab[pin]{1099}{1105}{7}\dlab[pin]{1062}{1120}{11}
\end{tikzpicture}
\end{document}
